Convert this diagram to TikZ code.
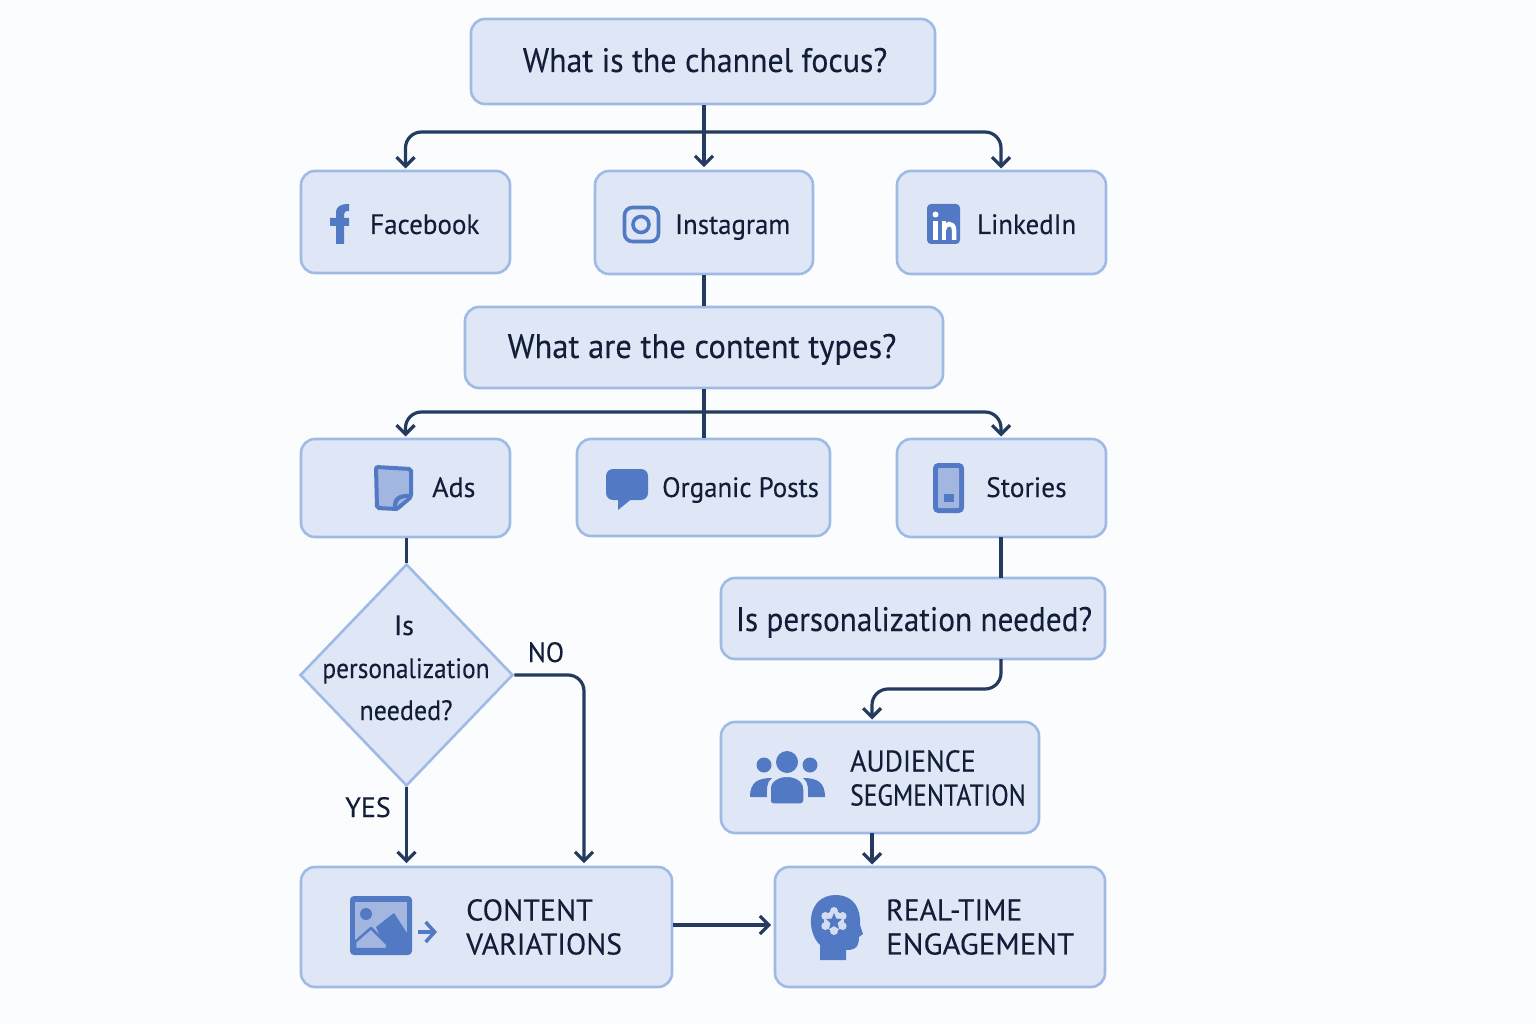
\documentclass[tikz,border=0pt]{standalone}
\usepackage{fontspec}
\setmainfont{PT Sans}[FakeBold=0.2]
\usetikzlibrary{arrows.meta,shapes.geometric}
\definecolor{bgc}{HTML}{FBFCFD}
\definecolor{boxfill}{HTML}{DFE7F6}
\definecolor{boxline}{HTML}{A0BAE6}
\definecolor{linec}{HTML}{243A5E}
\definecolor{textc}{HTML}{121E38}
\definecolor{iconc}{HTML}{5279C4}
\definecolor{iconl}{HTML}{A2B6E0}
\tikzset{
  x=1pt,y=-1pt,
  nodebox/.style={draw=boxline,fill=boxfill,line width=2.6pt,rounded corners=14pt,inner sep=0pt},
  wire/.style={draw=linec,line width=3.2pt,rounded corners=16pt},
  arrowwire/.style={wire,-{Straight Barb[length=9pt,width=18pt,line width=3.2pt]},shorten >=2.5pt},
  big/.style={text=textc,font=\fontsize{34}{40}\selectfont,inner sep=0pt,anchor=base},
  mid/.style={text=textc,font=\fontsize{28}{34}\selectfont,inner sep=0pt,anchor=base west},
  caps/.style={text=textc,font=\fontsize{30}{34}\selectfont,inner sep=0pt,anchor=west,align=left},
}
\newcommand{\bx}[5]{\node[nodebox,minimum width=#4-#2,minimum height=#5-#3] (#1) at ({(#2+#4)/2},{(#3+#5)/2}) {};}
\newcommand{\hs}[2]{\scalebox{#1}[1]{#2}}
\begin{document}
\begin{tikzpicture}
\path[use as bounding box,fill=bgc] (0,0) rectangle (1536,1024);
% boxes
\bx{qa}{471}{19}{935}{104}
\bx{fb}{301}{171}{510}{273}
\bx{ig}{595}{171}{813}{274}
\bx{li}{897}{171}{1106}{274}
\bx{qb}{465}{307}{943}{388}
\bx{ads}{301}{439}{510}{537}
\bx{org}{577}{439}{830}{536}
\bx{sto}{897}{439}{1106}{537}
\bx{qc}{721}{578}{1105}{659}
\bx{aud}{721}{722}{1039}{833}
\bx{cv}{301}{867}{672}{987}
\bx{rt}{775}{867}{1105}{987}
\node[diamond,draw=boxline,fill=boxfill,line width=2.6pt,inner sep=0pt,minimum width=213pt,minimum height=222pt] (dm) at (406.5,675) {};
% bus coordinates
\coordinate (busa) at (704,132);
\coordinate (busb) at (704,412);
\coordinate (busc) at (1001,689);
\coordinate (noc) at (584,675);
% connectors
\draw[arrowwire] (busa|-qa.south) -- (busa|-ig.north);
\draw[arrowwire] (busa) -| (405.5,171);
\draw[arrowwire] (busa) -| (1001,171);
\draw[wire] (busa|-ig.south) -- (busa|-qb.north);
\draw[wire] (busa|-qb.south) -- (busb|-org.north);
\draw[arrowwire] (busb) -| (405.5,439);
\draw[arrowwire] (busb) -| (1001,439);
\draw[wire] (dm.north|-ads.south) -- (dm.north);
\draw[wire] (1001,537) -- (1001,578);
\draw[arrowwire] (1001,659) -- (busc) -| (872,722);
\draw[arrowwire] (872,833) -- (872,867);
\draw[arrowwire] (dm.south) -- (dm.south|-cv.north);
\draw[arrowwire] (dm.east) -- (noc) -- (noc|-cv.north);
\draw[arrowwire] (cv.east|-0,925) -- (rt.west|-0,925);
% texts
\node[big] (ta) at (705,72) {\hs{.937}{What is the channel focus?}};
\node[big] (tb) at (702,358) {\hs{.956}{What are the content types?}};
\node[big] (tc) at (914,631) {\hs{.919}{Is personalization needed?}};
\node[mid] (tfb) at (370,234) {\hs{.965}{Facebook}};
\node[mid] (tig) at (675,234) {\hs{.96}{Instagram}};
\node[mid] (tli) at (977,234) {\hs{.96}{LinkedIn}};
\node[mid] (tad) at (432,497) {Ads};
\node[mid] (tor) at (662,497) {\hs{.96}{Organic Posts}};
\node[mid] (tst) at (986,497) {\hs{.98}{Stories}};
\node[mid,anchor=base] (d1) at (404,635) {Is};
\node[mid,anchor=base] (d2) at (406,678) {\hs{.907}{personalization}};
\node[mid,anchor=base] (d3) at (406,720) {\hs{.93}{needed?}};
\node[mid,anchor=base] (tno) at (546,662) {\hs{.95}{NO}};
\node[mid,anchor=base] (tye) at (368,817) {YES};
\node[caps] (tau) at (850,778) {\hs{.93}{AUDIENCE}\\\hs{.85}{SEGMENTATION}};
\node[caps] (tcv) at (466,927) {CONTENT\\\hs{.99}{VARIATIONS}};
\node[caps] (trt) at (886,927) {\hs{.985}{REAL-TIME}\\\hs{1.03}{ENGAGEMENT}};
% facebook icon
\fill[iconc] (336,244) -- (336,226) -- (330,226) -- (330,218) -- (336,218) -- (336,213) .. controls (336,206) and (341,204) .. (349,204) -- (349,211) .. controls (345,211) and (344,212) .. (344,215) -- (344,218) -- (349,218) -- (349,226) -- (344,226) -- (344,244) -- cycle;
% instagram icon
\draw[iconc,line width=3.6pt,rounded corners=8pt] (624.5,207.5) rectangle (658.5,241.5);
\draw[iconc,line width=3.6pt] (641,224.5) circle (8);
% linkedin icon
\fill[iconc,rounded corners=4pt] (927,204) rectangle (960,244);
\fill[white] (933,221) rectangle (938,240);
\fill[white] (935.5,214.5) circle (3);
\draw[white,line width=4.5pt] (944,240) -- (944,221);
\draw[white,line width=4.5pt] (944,230) .. controls (945,222) and (954,222) .. (954,230) -- (954,240);
% ads icon
\draw[iconc,line width=4pt,fill=iconl,rounded corners=2pt] (376,467) -- (411,469) -- (411,497) -- (397,509) -- (377,508) -- cycle;
\fill[iconc] (393,509) .. controls (392,497) and (398,493) .. (412,494) -- (412,498) -- (397,511) -- cycle;
\fill[iconl] (397,506) .. controls (397,500) and (402,498) .. (407,498) -- cycle;
% bubble icon
\fill[iconc,rounded corners=7pt] (606,469) rectangle (648,500);
\fill[iconc] (618,497) -- (618,510) -- (634,497) -- cycle;
% phone icon
\fill[iconc,rounded corners=5pt] (933,463) rectangle (964,513);
\fill[iconl,rounded corners=1pt] (938,468) rectangle (959,508);
\fill[iconc] (944,494) rectangle (954,502);
% people icon
\fill[iconc] (787,762) circle (11);
\fill[iconc] (764,765) circle (7.5);
\fill[iconc] (810,765) circle (7.5);
\fill[iconc] (750,797) .. controls (750,782) and (758,778) .. (772,778) .. controls (766,782) and (767,790) .. (767,797) -- cycle;
\fill[iconc] (825,797) .. controls (825,782) and (817,778) .. (803,778) .. controls (809,782) and (808,790) .. (808,797) -- cycle;
\fill[iconc,draw=boxfill,line width=1.5pt,rounded corners=3pt] (770,804) -- (770,792) .. controls (770,772) and (804,772) .. (804,792) -- (804,804) -- cycle;
% image icon
\fill[iconc,rounded corners=4pt] (350,896) rectangle (412,955);
\fill[iconl] (355,902) rectangle (407,949);
\fill[iconc] (366,914) circle (6);
\fill[iconc] (376,927) -- (394,913) -- (407,933) -- (407,950) -- (386,950) -- cycle;
\filldraw[fill=iconl,draw=iconc,line width=2.5pt,line join=round] (355,942) -- (371,928) -- (387,944) -- (387,949) -- (355,949) -- cycle;
\draw[iconc,line width=3.5pt,-{Straight Barb[length=9pt,width=20pt,line width=3.5pt]}] (418,932) -- (437,932);
% head icon
\fill[iconc] (820,960) -- (820,945) .. controls (806,932) and (806,896) .. (835,895) .. controls (855,895) and (861,910) .. (860,925) -- (863,934) -- (859,937) .. controls (859,950) and (852,950) .. (846,950) -- (846,960) -- cycle;
\foreach \a in {0,60,...,300} \fill[boxfill!80!iconl] (834,921) ++(\a+30:10) circle (4);
\fill[boxfill!80!iconl] (834,921) circle (10);
\fill[iconc] (834,913) -- (836.2,918.5) -- (842,919) -- (837.5,923) -- (839,929) -- (834,926) -- (829,929) -- (830.5,923) -- (826,919) -- (831.8,918.5) -- cycle;
\end{tikzpicture}
\end{document}
